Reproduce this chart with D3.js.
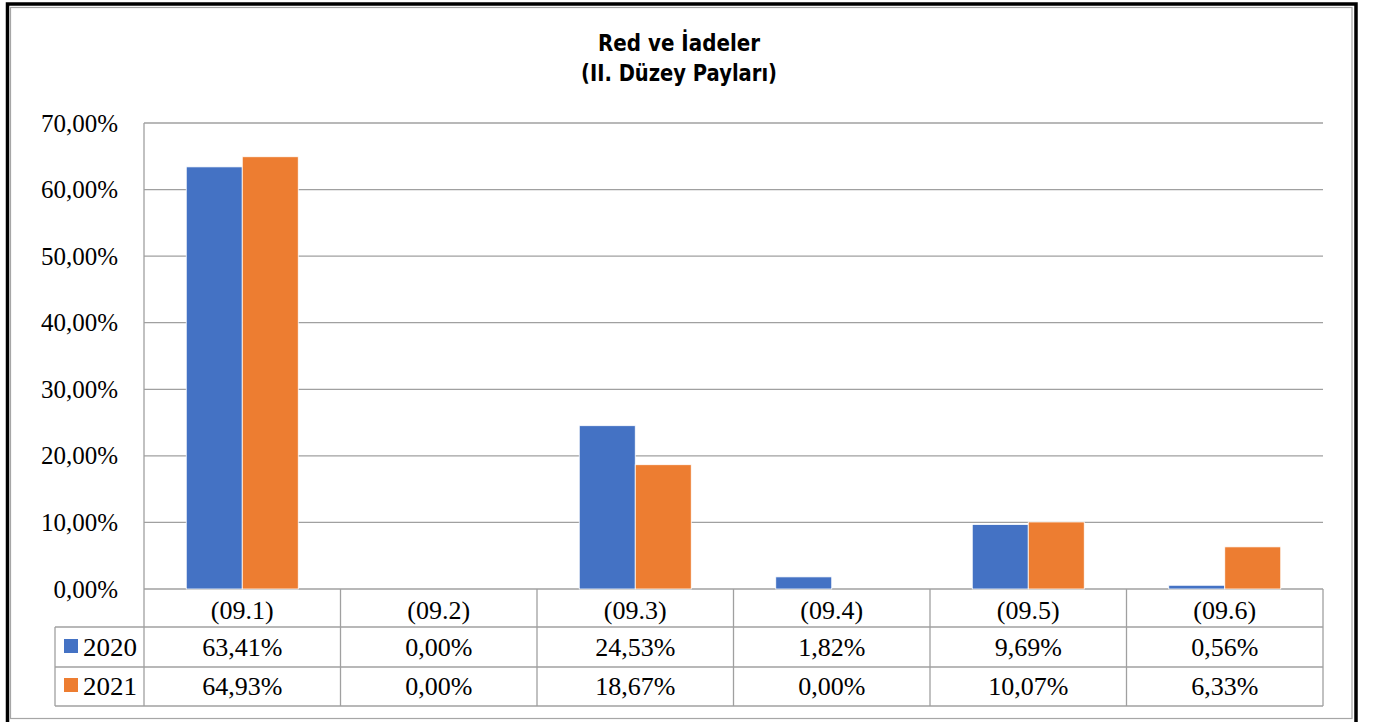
<!DOCTYPE html>
<html>
  <head>
    <meta charset="utf-8">
    <style>
      body { margin: 0; background: #fff; }
      text { fill: #000; }
    </style>
  </head>
  <body>
    <script src="https://d3js.org/d3.v7.min.js"></script>
    <div id="main"></div>
    <script>
      // data
      const categories = ["(09.1)", "(09.2)", "(09.3)", "(09.4)", "(09.5)", "(09.6)"];
      const seriesNames = ["2020", "2021"];
      const values2020 = [63.41, 0.0, 24.53, 1.82, 9.69, 0.56];
      const values2021 = [64.93, 0.0, 18.67, 0.0, 10.07, 6.33];
      const yTicks = [0, 10, 20, 30, 40, 50, 60, 70];
      const titleLines = ["Red ve İadeler", "(II. Düzey Payları)"];

      const colors = { "2020": "#4472C4", "2021": "#ED7D31" };
      const gridColor = "#a0a0a0";
      const serif = "'Liberation Serif', 'Times New Roman', serif";

      const W = 1373, H = 722;
      const plotLeft = 144, plotRight = 1323, plotTop = 123, plotBottom = 589;
      const rowEdges = [589, 627, 667, 706]; // table row edges
      const tableLeft = 55;

      const pct = (v) => d3.format(".2f")(v).replace(".", ",") + "%";

      const svg = d3.select("#main")
        .append("svg")
        .attr("width", W)
        .attr("height", H);

      // frame: black outer (left, top, right) + thin gray inner
      svg.append("path")
        .attr("d", `M7.5,${H} V4 H1356 V${H}`)
        .attr("fill", "none")
        .attr("stroke", "#000")
        .attr("stroke-width", 3.5);
      svg.append("rect")
        .attr("x", 10.5).attr("y", 7.5)
        .attr("width", 1352 - 10.5).attr("height", 718.5 - 7.5)
        .attr("fill", "none")
        .attr("stroke", "#a6a6a6")
        .attr("stroke-width", 1.2);

      // title
      const titleLen = [162, 196];
      svg.selectAll(".title")
        .data(titleLines)
        .join("text")
        .attr("class", "title")
        .attr("x", 679)
        .attr("y", (d, i) => 51 + i * 30)
        .attr("text-anchor", "middle")
        .attr("textLength", (d, i) => titleLen[i])
        .attr("lengthAdjust", "spacingAndGlyphs")
        .style("font-family", "'DejaVu Sans', Roboto, sans-serif")
        .style("font-weight", "bold")
        .style("font-size", "23px")
        .text((d) => d);

      const x = d3.scaleBand().domain(categories).range([plotLeft, plotRight]);
      const y = d3.scaleLinear().domain([0, 70]).range([plotBottom, plotTop]);
      const groupW = 112;
      const xs = d3.scaleBand()
        .domain(seriesNames)
        .range([(x.bandwidth() - groupW) / 2, (x.bandwidth() + groupW) / 2]);

      // gridlines
      svg.append("g")
        .selectAll("line")
        .data(yTicks)
        .join("line")
        .attr("x1", plotLeft).attr("x2", plotRight)
        .attr("y1", (d) => y(d)).attr("y2", (d) => y(d))
        .attr("stroke", gridColor)
        .attr("stroke-width", 1.3);

      // left axis line
      svg.append("line")
        .attr("x1", plotLeft).attr("x2", plotLeft)
        .attr("y1", plotTop).attr("y2", plotBottom)
        .attr("stroke", gridColor)
        .attr("stroke-width", 1.3);

      // y tick labels
      svg.append("g")
        .selectAll("text")
        .data(yTicks)
        .join("text")
        .attr("x", 118)
        .attr("y", (d) => y(d) + 8.5)
        .attr("text-anchor", "end")
        .style("font-family", serif)
        .style("font-size", "25px")
        .text((d) => pct(d));

      // bars
      const rows = categories.map((c, i) => ({ cat: c, "2020": values2020[i], "2021": values2021[i] }));
      svg.append("g")
        .selectAll("g")
        .data(rows)
        .join("g")
        .attr("transform", (d) => `translate(${x(d.cat)},0)`)
        .selectAll("rect")
        .data((d) => seriesNames.map((s) => ({ s, v: d[s] })))
        .join("rect")
        .attr("x", (d) => xs(d.s))
        .attr("width", xs.bandwidth())
        .attr("y", (d) => y(d.v))
        .attr("height", (d) => y(0) - y(d.v))
        .attr("fill", (d) => colors[d.s])
        .attr("stroke", (d) => (d.v > 0 ? "#fff" : "none"))
        .attr("stroke-width", 0.8);

      // data table
      const table = svg.append("g")
        .style("font-family", serif)
        .style("font-size", "26px");
      [rowEdges[1], rowEdges[2], rowEdges[3]].forEach((yy) => {
        table.append("line")
          .attr("x1", tableLeft).attr("x2", plotRight)
          .attr("y1", yy).attr("y2", yy)
          .attr("stroke", gridColor).attr("stroke-width", 1.3);
      });
      table.append("line")
        .attr("x1", tableLeft).attr("x2", tableLeft)
        .attr("y1", rowEdges[1]).attr("y2", rowEdges[3])
        .attr("stroke", gridColor).attr("stroke-width", 1.3);
      const edges = categories.map((c) => x(c)).concat([plotRight]);
      table.selectAll(".vline")
        .data(edges)
        .join("line")
        .attr("class", "vline")
        .attr("x1", (d) => d).attr("x2", (d) => d)
        .attr("y1", rowEdges[0]).attr("y2", rowEdges[3])
        .attr("stroke", gridColor).attr("stroke-width", 1.3);

      // header row
      table.selectAll(".cat")
        .data(categories)
        .join("text")
        .attr("class", "cat")
        .attr("x", (d) => x(d) + x.bandwidth() / 2)
        .attr("y", 619)
        .attr("text-anchor", "middle")
        .text((d) => d);

      // series rows
      const seriesVals = [values2020, values2021];
      const baselines = [656, 695];
      seriesNames.forEach((s, si) => {
        table.append("rect")
          .attr("x", 64).attr("y", baselines[si] - 17)
          .attr("width", 14).attr("height", 14)
          .attr("fill", colors[s]);
        table.append("text")
          .attr("x", 83).attr("y", baselines[si])
          .attr("textLength", 54)
          .attr("lengthAdjust", "spacingAndGlyphs")
          .text(s);
        table.append("g")
          .selectAll("text")
          .data(seriesVals[si])
          .join("text")
          .attr("x", (d, i) => x(categories[i]) + x.bandwidth() / 2)
          .attr("y", baselines[si])
          .attr("text-anchor", "middle")
          .text((d) => pct(d));
      });
    </script>
  </body>
</html>
